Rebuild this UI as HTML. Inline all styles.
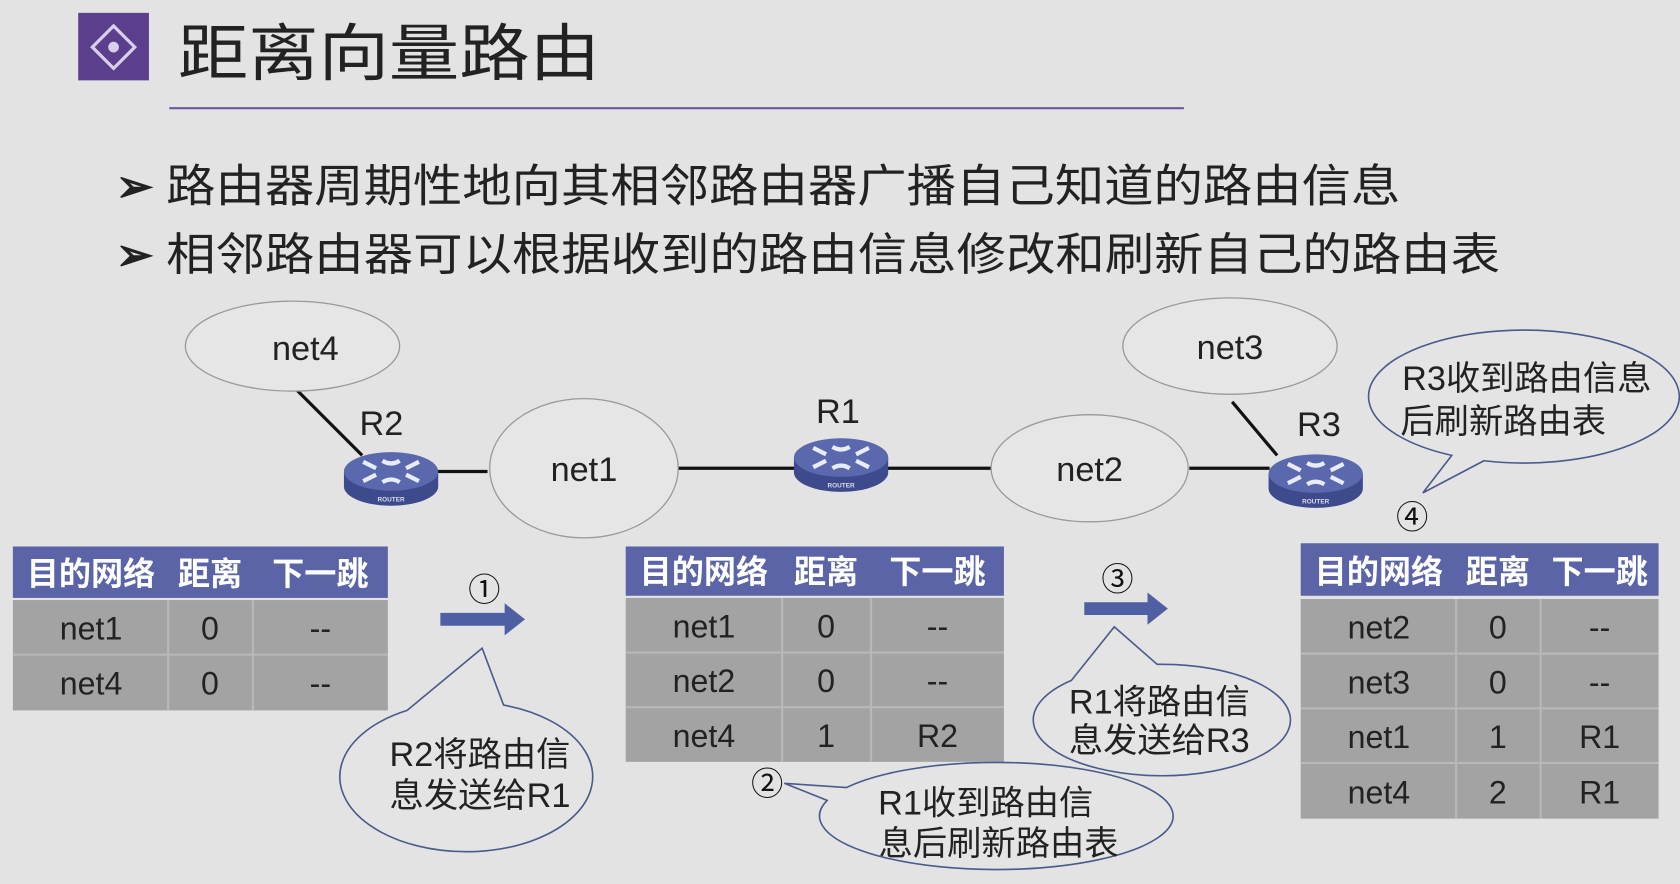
<!DOCTYPE html>
<html><head><meta charset="utf-8"><style>
html,body{margin:0;padding:0;background:#e3e3e3;}
svg{display:block}
text{font-family:"Liberation Sans","Noto Sans CJK SC",sans-serif;}
</style></head><body>
<svg width="1680" height="884" viewBox="0 0 1568 825" preserveAspectRatio="none" xmlns="http://www.w3.org/2000/svg">
<defs>
<g id="rt">
 <path d="M-44,0 v14 a44,18 0 0 0 88,0 v-14 z" fill="#3d4a8c"/>
 <ellipse cx="0" cy="0" rx="44" ry="18" fill="#5a68ad"/>
 <g stroke="#e8ecf8" stroke-width="4" fill="none">
  <path d="M-26,-9 l12,6 M-26,9 l12,-6 M26,-9 l-12,6 M26,9 l-12,-6 M-8,-10 q8,5 16,0 M-8,10 q8,-5 16,0"/>
 </g>
 <text x="0" y="28" font-size="6" fill="#dde" text-anchor="middle" font-weight="bold">ROUTER</text>
</g>
</defs>
<rect width="1568" height="825" fill="#e3e3e3"/>
<rect x="73" y="12" width="66" height="63" fill="#5b3f8c"/>
<rect x="92" y="30" width="28" height="28" fill="none" stroke="#d8cfee" stroke-width="3" transform="rotate(45 106 44)"/>
<circle cx="106" cy="44" r="5" fill="#d8cfee"/>
<text x="166" y="70" font-size="58" fill="#222" textLength="394" lengthAdjust="spacingAndGlyphs">距离向量路由</text>
<line x1="158" y1="101" x2="1105" y2="101" stroke="#6b5a9e" stroke-width="2"/>
<text x="108" y="188" font-size="42" fill="#222" font-weight="bold">➢</text>
<text x="155" y="188" font-size="42" fill="#222" textLength="1152" lengthAdjust="spacingAndGlyphs">路由器周期性地向其相邻路由器广播自己知道的路由信息</text>
<text x="108" y="252" font-size="42" fill="#222" font-weight="bold">➢</text>
<text x="155" y="252" font-size="42" fill="#222" textLength="1245" lengthAdjust="spacingAndGlyphs">相邻路由器可以根据收到的路由信息修改和刷新自己的路由表</text>

<g stroke="#111" stroke-width="3">
<line x1="275" y1="362" x2="338" y2="425"/>
<line x1="405" y1="440" x2="455" y2="440"/>
<line x1="632" y1="437" x2="742" y2="437"/>
<line x1="828" y1="437" x2="925" y2="437"/>
<line x1="1110" y1="437" x2="1185" y2="437"/>
<line x1="1150" y1="375" x2="1192" y2="425"/>
</g>
<g fill="#e6e6e6" stroke="#999" stroke-width="1.2">
<ellipse cx="273" cy="323" rx="100" ry="42"/>
<ellipse cx="545" cy="437" rx="88" ry="65"/>
<ellipse cx="1017" cy="437" rx="92" ry="50"/>
<ellipse cx="1148" cy="323" rx="100" ry="45"/>
</g>
<g font-size="32" fill="#222" text-anchor="middle">
<text x="285" y="336">net4</text>
<text x="545" y="449">net1</text>
<text x="1017" y="449">net2</text>
<text x="1148" y="335">net3</text>
<text x="356" y="406">R2</text>
<text x="782" y="395">R1</text>
<text x="1231" y="407">R3</text>
</g>
<use href="#rt" x="365" y="440"/>
<use href="#rt" x="785" y="427"/>
<use href="#rt" x="1228" y="442"/>

<!-- table 1 -->
<rect x="12" y="510" width="350" height="48" fill="#5a64a6"/>
<rect x="12" y="560" width="350" height="103" fill="#a3a3a3"/>
<g stroke="#b8b8b8" stroke-width="2"><line x1="12" y1="611" x2="362" y2="611"/><line x1="157" y1="560" x2="157" y2="663"/><line x1="236" y1="560" x2="236" y2="663"/></g>
<g font-size="30" text-anchor="middle" fill="#222">
<text x="85" y="546" fill="#fff" font-weight="bold">目的网络</text><text x="196" y="546" fill="#fff" font-weight="bold">距离</text><text x="299" y="546" fill="#fff" font-weight="bold">下一跳</text>
<text x="85" y="597">net1</text><text x="196" y="597">0</text><text x="299" y="597">--</text>
<text x="85" y="648">net4</text><text x="196" y="648">0</text><text x="299" y="648">--</text>
</g>
<!-- table 2 -->
<rect x="584" y="510" width="353" height="46" fill="#5a64a6"/>
<rect x="584" y="558" width="353" height="153" fill="#a3a3a3"/>
<g stroke="#b8b8b8" stroke-width="2"><line x1="584" y1="609" x2="937" y2="609"/><line x1="584" y1="660" x2="937" y2="660"/><line x1="730" y1="558" x2="730" y2="711"/><line x1="813" y1="558" x2="813" y2="711"/></g>
<g font-size="30" text-anchor="middle" fill="#222">
<text x="657" y="544" fill="#fff" font-weight="bold">目的网络</text><text x="771" y="544" fill="#fff" font-weight="bold">距离</text><text x="875" y="544" fill="#fff" font-weight="bold">下一跳</text>
<text x="657" y="595">net1</text><text x="771" y="595">0</text><text x="875" y="595">--</text>
<text x="657" y="646">net2</text><text x="771" y="646">0</text><text x="875" y="646">--</text>
<text x="657" y="697">net4</text><text x="771" y="697">1</text><text x="875" y="697">R2</text>
</g>
<!-- table 3 -->
<rect x="1214" y="507" width="334" height="49" fill="#5a64a6"/>
<rect x="1214" y="559" width="334" height="205" fill="#a3a3a3"/>
<g stroke="#b8b8b8" stroke-width="2"><line x1="1214" y1="610" x2="1548" y2="610"/><line x1="1214" y1="661" x2="1548" y2="661"/><line x1="1214" y1="712" x2="1548" y2="712"/><line x1="1359" y1="559" x2="1359" y2="764"/><line x1="1438" y1="559" x2="1438" y2="764"/></g>
<g font-size="30" text-anchor="middle" fill="#222">
<text x="1287" y="544" fill="#fff" font-weight="bold">目的网络</text><text x="1398" y="544" fill="#fff" font-weight="bold">距离</text><text x="1493" y="544" fill="#fff" font-weight="bold">下一跳</text>
<text x="1287" y="596">net2</text><text x="1398" y="596">0</text><text x="1493" y="596">--</text>
<text x="1287" y="647">net3</text><text x="1398" y="647">0</text><text x="1493" y="647">--</text>
<text x="1287" y="698">net1</text><text x="1398" y="698">1</text><text x="1493" y="698">R1</text>
<text x="1287" y="750">net4</text><text x="1398" y="750">2</text><text x="1493" y="750">R1</text>
</g>

<!-- arrows -->
<path d="M411,572 h60 v-9 l19,15 l-19,15 v-9 h-60 z" fill="#4f5fa3"/>
<path d="M1012,562 h59 v-9 l19,15 l-19,15 v-9 h-59 z" fill="#4f5fa3"/>
<g font-size="30" text-anchor="middle" fill="#111">
<text x="452" y="561">①</text><text x="1043" y="551">③</text><text x="716" y="742">②</text><text x="1318" y="493">④</text>
</g>

<!-- callouts -->
<g fill="#e4e4e4" stroke="#4a5a8a" stroke-width="1.5">
<path d="M380,663 L450,605 L470,658 A118,70 0 1 1 380,663 Z"/>
<path d="M1000,635 L1040,585 L1080,620 A120,52 0 1 1 1000,635 Z"/>
<path d="M772,747 L732,731 L790,735 A165,50 0 1 1 772,747 Z"/>
<path d="M1355,425 L1328,460 L1385,430 A145,62 0 1 0 1355,425 Z"/>
</g>
<g font-size="32" text-anchor="middle" fill="#222">
<text x="448" y="715">R2将路由信</text><text x="448" y="753">息发送给R1</text>
<text x="1082" y="666">R1将路由信</text><text x="1082" y="702">息发送给R3</text>
<text x="920" y="760">R1收到路由信</text><text x="932" y="798">息后刷新路由表</text>
<text x="1425" y="364">R3收到路由信息</text><text x="1403" y="404">后刷新路由表</text>
</g>
</svg>
</body></html>
